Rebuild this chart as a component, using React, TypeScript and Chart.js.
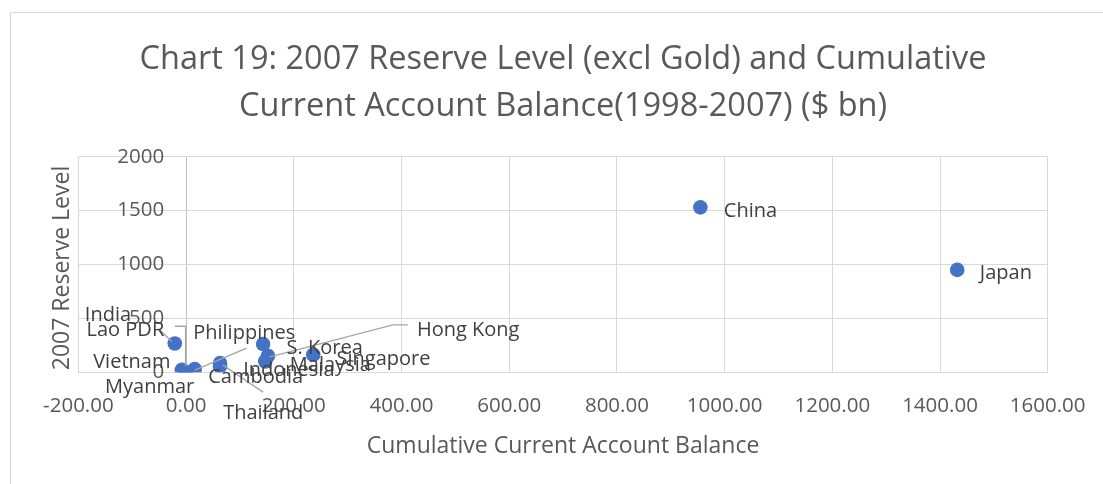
import React, { useEffect, useRef } from "react";
import { Chart, registerables } from "chart.js";

Chart.register(...registerables);

const titleLines = [
  "Chart 19: 2007 Reserve Level (excl Gold) and Cumulative",
  "Current Account Balance(1998-2007) ($ bn)",
];
const xAxisTitle = "Cumulative Current Account Balance";
const yAxisTitle = "2007 Reserve Level";

const countries = [
  "China", "Japan", "India", "S. Korea", "Hong Kong", "Singapore", "Malaysia",
  "Thailand", "Indonesia", "Philippines", "Vietnam", "Cambodia", "Lao PDR", "Myanmar",
];
const cumulativeBalance = [955, 1432, -21, 143, 152, 236, 147, 63, 63, 16, -8, -3, -1, 0];
const reserveLevel = [1530, 950, 267, 262, 153, 163, 100, 85, 55, 30, 23, 2, 0.5, 3];

const xTickValues = [-200, 0, 200, 400, 600, 800, 1000, 1200, 1400, 1600];
const yTickValues = [0, 500, 1000, 1500, 2000];

// label placement relative to each marker (pixels), with optional leader line
const labelPlacement: Record<string, { dx: number; dy: number; leader?: number[][] }> = {
  China: { dx: 23.5, dy: 1.5 },
  Japan: { dx: 22.6, dy: 1 },
  India: { dx: -90, dy: -30.5, leader: [[-3, -2], [-15, -13.5]] },
  "S. Korea": { dx: 23.5, dy: 2.6 },
  "Hong Kong": { dx: 149, dy: -28, leader: [[2, 1], [125, -31], [140, -31]] },
  Singapore: { dx: 23.4, dy: 2.6 },
  Malaysia: { dx: 24.6, dy: 1.8 },
  Thailand: { dx: 3.2, dy: 48.6, leader: [[3, 2], [43, 29]] },
  Indonesia: { dx: 23.2, dy: 1.9 },
  Philippines: { dx: -1.5, dy: -37.4, leader: [[0, 1], [52, -21]] },
  Vietnam: { dx: -88.6, dy: -9.8 },
  Cambodia: { dx: 23.7, dy: 2.9 },
  "Lao PDR": { dx: -99, dy: -44, leader: [[-10.7, -46], [0, -46], [0, -6]] },
  Myanmar: { dx: -81, dy: 13 },
};

const FONT = "'Open Sans', 'DejaVu Sans', sans-serif";
const TEXT = "#595959";
const GRID = "#d9d9d9";
const AXIS = "#bfbfbf";
const MARKER = "#4472C4";
const TEXT_SHIFT = 2;
// the vertical axis labels sit 22px left of the x = 0 line
const Y_LABEL_GAP = 22;
const PAD_LEFT = 78.4;
const PAD_RIGHT = 55.3;

const framePlugin = {
  id: "frame",
  beforeDraw(chart: any) {
    const { ctx, width, height } = chart;
    ctx.save();
    ctx.fillStyle = "#ffffff";
    ctx.fillRect(0, 0, width, height);
    ctx.strokeStyle = GRID;
    ctx.lineWidth = 1;
    ctx.strokeRect(10.5, 12.5, width + 50, height + 50);
    ctx.restore();
  },
};

const yTitlePlugin = {
  id: "yTitle",
  afterDraw(chart: any) {
    const { ctx, chartArea } = chart;
    ctx.save();
    ctx.translate(chartArea.left - 16, (chartArea.top + chartArea.bottom) / 2 + 3.5);
    ctx.rotate(-Math.PI / 2);
    ctx.font = `23px ${FONT}`;
    ctx.fillStyle = TEXT;
    ctx.textAlign = "center";
    ctx.textBaseline = "middle";
    ctx.fillText(yAxisTitle, 0, 0);
    ctx.restore();
  },
};

const pointLabelPlugin = {
  id: "pointLabels",
  afterDatasetsDraw(chart: any) {
    const { ctx } = chart;
    const meta = chart.getDatasetMeta(0);
    ctx.save();
    ctx.strokeStyle = "#a6a6a6";
    ctx.lineWidth = 1.3;
    meta.data.forEach((el: any, i: number) => {
      const p = labelPlacement[countries[i]];
      if (!p || !p.leader) return;
      ctx.beginPath();
      p.leader.forEach(([lx, ly], j) => {
        if (j === 0) ctx.moveTo(el.x + lx, el.y + ly);
        else ctx.lineTo(el.x + lx, el.y + ly);
      });
      ctx.stroke();
    });
    ctx.font = `20px ${FONT}`;
    ctx.fillStyle = "#404040";
    ctx.textAlign = "left";
    ctx.textBaseline = "middle";
    meta.data.forEach((el: any, i: number) => {
      const p = labelPlacement[countries[i]] || { dx: 23, dy: 0 };
      ctx.fillText(countries[i], el.x + p.dx, el.y + p.dy + TEXT_SHIFT);
    });
    ctx.restore();
  },
};

export default function App() {
  const ref = useRef<HTMLCanvasElement>(null);
  useEffect(() => {
    document.body.style.margin = "0";
    const canvas = ref.current!;
    Chart.defaults.font.family = FONT;
    const xSpan = xTickValues[xTickValues.length - 1] - xTickValues[0];
    const plotWidth = 1103 - PAD_LEFT - PAD_RIGHT;
    const yAxisValue = -(Y_LABEL_GAP * xSpan) / plotWidth;
    const chart = new Chart(canvas, {
      type: "scatter",
      data: {
        datasets: [
          {
            label: "Reserves",
            data: countries.map((_, i) => ({ x: cumulativeBalance[i], y: reserveLevel[i] })),
            backgroundColor: MARKER,
            borderColor: MARKER,
            borderWidth: 0,
            pointRadius: 7.3,
            pointHoverRadius: 7.3,
          },
        ],
      },
      options: {
        responsive: false,
        animation: false,
        devicePixelRatio: 1,
        layout: { padding: { left: PAD_LEFT, right: PAD_RIGHT, top: 0, bottom: 0 } },
        plugins: {
          legend: { display: false },
          tooltip: { enabled: false },
          title: {
            display: true,
            text: titleLines,
            color: TEXT,
            font: { family: FONT, size: 32.5, weight: "normal", lineHeight: 47 / 32.5 },
            padding: { top: 36.5, bottom: 26.2 },
          },
        },
        scales: {
          x: {
            type: "linear",
            min: xTickValues[0],
            max: xTickValues[xTickValues.length - 1],
            ticks: {
              stepSize: xTickValues[1] - xTickValues[0],
              callback: (v: any) => Number(v).toFixed(2),
              color: TEXT,
              font: { family: FONT, size: 20.5, lineHeight: 1.785 },
              padding: 16,
              maxRotation: 0,
              autoSkip: false,
            },
            grid: {
              color: (c: any) => (c.tick && c.tick.value === 0 ? AXIS : GRID),
              drawTicks: false,
              lineWidth: 1,
            },
            border: { color: GRID },
            title: {
              display: true,
              text: xAxisTitle,
              color: TEXT,
              font: { family: FONT, size: 23 },
              padding: { top: 0, bottom: 24.2 },
            },
            afterFit: (s: any) => {
              s.height = 111.7;
            },
          },
          y: {
            type: "linear",
            position: { x: yAxisValue } as any,
            min: yTickValues[0],
            max: yTickValues[yTickValues.length - 1],
            ticks: {
              stepSize: yTickValues[1] - yTickValues[0],
              callback: (v: any) => String(v),
              color: TEXT,
              font: { family: FONT, size: 20.5 },
            },
            grid: { color: GRID, drawTicks: false, lineWidth: 1 },
            border: { display: false },
          },
        },
      },
      plugins: [framePlugin, pointLabelPlugin, yTitlePlugin],
    });
    return () => chart.destroy();
  }, []);
  return (
    <div style={{ width: 1103, height: 484 }}>
      <canvas ref={ref} width={1103} height={484} style={{ display: "block" }} />
    </div>
  );
}
